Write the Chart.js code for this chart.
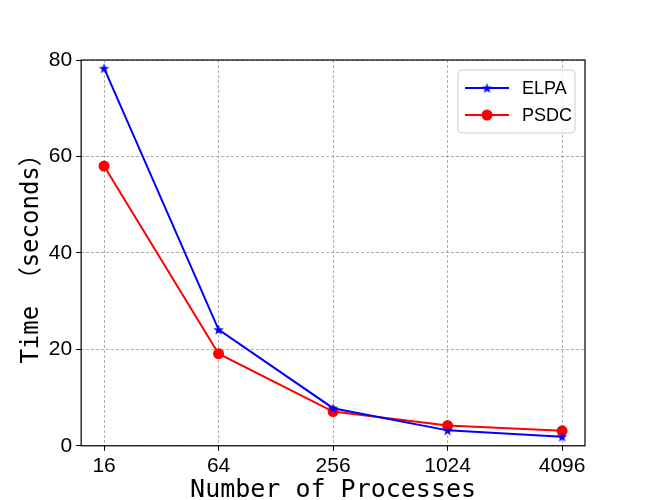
<!DOCTYPE html>
<html>
<head>
<meta charset="utf-8">
<script src="https://cdn.jsdelivr.net/npm/chart.js@4/dist/chart.umd.min.js"></script>
<style>
  html, body { margin: 0; padding: 0; background: #fff; }
  #wrap { width: 650px; height: 500px; }
</style>
</head>
<body>
<div id="wrap"><canvas id="chart" width="650" height="500"></canvas></div>
<script>
// data
const processes = ["16", "64", "256", "1024", "4096"];
const elpaTimes = [78.3, 24.1, 7.8, 3.2, 1.9];
const psdcTimes = [58.0, 19.1, 7.1, 4.2, 3.1];
const yTicks = [0, 20, 40, 60, 80];

const tickFont = "'Liberation Sans', sans-serif";
const titleFont = "'DejaVu Sans Mono', 'Noto Sans CJK SC', monospace";

// filled five point star for the ELPA markers
function makeStar(color, r) {
    const c = document.createElement("canvas");
    const size = Math.ceil(r * 2 + 2);
    c.width = size;
    c.height = size;
    const ctx = c.getContext("2d");
    const cx = size / 2, cy = size / 2 + 0.5;
    ctx.beginPath();
    for (let i = 0; i < 10; i++) {
        const rad = i % 2 === 0 ? r : r * 0.42;
        const a = -Math.PI / 2 + i * Math.PI / 5;
        const px = cx + rad * Math.cos(a);
        const py = cy + rad * Math.sin(a);
        if (i === 0) ctx.moveTo(px, py); else ctx.lineTo(px, py);
    }
    ctx.closePath();
    ctx.fillStyle = color;
    ctx.fill();
    return c;
}

const starImg = makeStar("#0000ff", 5.5);

// box around the plot, like matplotlib
const frame = {
    id: "frame",
    afterDraw(chart) {
        const a = chart.chartArea;
        const ctx = chart.ctx;
        ctx.save();
        ctx.strokeStyle = "#000";
        ctx.lineWidth = 1.2;
        ctx.strokeRect(a.left, a.top, a.right - a.left, a.bottom - a.top);
        ctx.restore();
    }
};

// legend with line + marker samples
const lineLegend = {
    id: "lineLegend",
    afterDraw(chart) {
        const ctx = chart.ctx;
        const a = chart.chartArea;
        const boxW = 117, boxH = 63;
        const x = a.right - boxW - 10, y = a.top + 10;
        ctx.save();
        ctx.fillStyle = "rgba(255,255,255,0.8)";
        ctx.strokeStyle = "#cccccc";
        ctx.lineWidth = 1;
        ctx.beginPath();
        ctx.roundRect(x, y, boxW, boxH, 4);
        ctx.fill();
        ctx.stroke();
        chart.data.datasets.forEach((ds, i) => {
            const ly = y + 18 + i * 27;
            ctx.strokeStyle = ds.borderColor;
            ctx.lineWidth = 2;
            ctx.beginPath();
            ctx.moveTo(x + 7, ly);
            ctx.lineTo(x + 51, ly);
            ctx.stroke();
            if (ds.pointStyle === "circle") {
                ctx.fillStyle = ds.pointBackgroundColor;
                ctx.beginPath();
                ctx.arc(x + 29, ly, ds.pointRadius, 0, Math.PI * 2);
                ctx.fill();
            } else {
                ctx.drawImage(starImg, x + 29 - starImg.width / 2, ly - starImg.height / 2);
            }
            ctx.fillStyle = "#000";
            ctx.font = "18px " + tickFont;
            ctx.textBaseline = "middle";
            ctx.fillText(ds.label, x + 64, ly + 1);
        });
        ctx.restore();
    }
};

const gridOpts = {
    color: "#9a9a9a",
    lineWidth: 0.8,
    tickColor: "#000",
    tickBorderDash: [],
    tickLength: 5,
    tickWidth: 1
};

new Chart(document.getElementById("chart"), {
    type: "line",
    data: {
        datasets: [{
            label: "ELPA",
            data: elpaTimes.map((v, i) => ({ x: i, y: v })),
            borderColor: "#0000ff",
            backgroundColor: "#0000ff",
            borderWidth: 2,
            pointStyle: starImg,
            pointRadius: 5,
            tension: 0
        }, {
            label: "PSDC",
            data: psdcTimes.map((v, i) => ({ x: i, y: v })),
            borderColor: "#ff0000",
            backgroundColor: "#ff0000",
            pointBackgroundColor: "#ff0000",
            pointBorderWidth: 0,
            borderWidth: 2,
            pointStyle: "circle",
            pointRadius: 5.5,
            tension: 0
        }]
    },
    options: {
        responsive: false,
        animation: false,
        layout: { padding: { left: 17, right: 65, top: 60, bottom: -12 } },
        plugins: {
            legend: { display: false },
            tooltip: { enabled: false }
        },
        scales: {
            x: {
                type: "linear",
                min: -0.2,
                max: 4.2,
                afterBuildTicks(scale) {
                    scale.ticks = processes.map((p, i) => ({ value: i }));
                },
                ticks: {
                    callback: (v) => processes[v],
                    color: "#000",
                    font: { family: tickFont, size: 21 },
                    padding: 3,
                    maxRotation: 0
                },
                grid: gridOpts,
                border: { display: false, dash: [3, 2] },
                title: {
                    display: true,
                    text: "Number of Processes",
                    color: "#000",
                    font: { family: titleFont, size: 25 },
                    padding: { top: -7, bottom: 7 }
                }
            },
            y: {
                min: 0,
                max: 80,
                afterBuildTicks(scale) {
                    scale.ticks = yTicks.map(v => ({ value: v }));
                },
                ticks: {
                    color: "#000",
                    font: { family: tickFont, size: 21 },
                    padding: 4
                },
                grid: gridOpts,
                border: { display: false, dash: [3, 2] },
                title: {
                    display: true,
                    text: "Time （seconds）",
                    color: "#000",
                    font: { family: titleFont, size: 24 },
                    padding: { top: 0, bottom: -1 }
                }
            }
        }
    },
    plugins: [frame, lineLegend]
});
</script>
</body>
</html>
